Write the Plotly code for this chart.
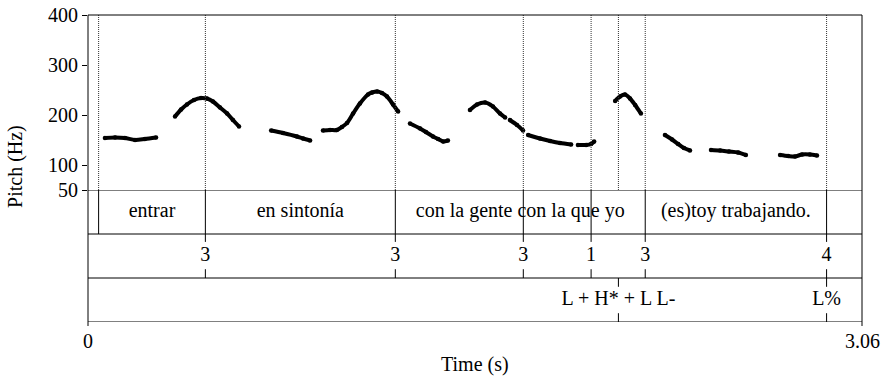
import plotly.graph_objects as go

# ---- Pitch contour (time in s, F0 in Hz), one list per voiced stretch ----
seg_times = [
    [0.067, 0.107, 0.146, 0.186, 0.225, 0.269],
    [0.344, 0.368, 0.391, 0.419, 0.447, 0.470, 0.494, 0.522, 0.550, 0.573, 0.597],
    [0.724, 0.771, 0.826, 0.850, 0.878],
    [0.929, 0.957, 0.984, 1.004, 1.024, 1.048, 1.075, 1.107, 1.123, 1.143, 1.162, 1.182, 1.206, 1.226],
    [1.273, 1.313, 1.336, 1.364, 1.384, 1.404, 1.423],
    [1.510, 1.538, 1.570, 1.601, 1.629, 1.649],
    [1.668, 1.696, 1.720],
    [1.740, 1.787, 1.827, 1.866, 1.910],
    [1.937, 1.969, 1.989, 2.001],
    [2.084, 2.103, 2.123, 2.143, 2.163, 2.186],
    [2.281, 2.309, 2.333, 2.356, 2.380],
    [2.463, 2.499, 2.534, 2.570, 2.601],
    [2.736, 2.768, 2.795, 2.823, 2.854, 2.882],
]
seg_hz = [
    [154, 155, 154, 150, 152, 155],
    [197, 211, 221, 230, 234, 233, 227, 215, 203, 190, 177],
    [169, 164, 157, 153, 149],
    [169, 170, 170, 176, 184, 203, 223, 241, 245, 247, 244, 237, 221, 207],
    [183, 173, 166, 157, 152, 147, 149],
    [210, 221, 225, 217, 203, 195],
    [190, 180, 169],
    [160, 153, 148, 144, 141],
    [140, 140, 142, 147],
    [228, 237, 241, 233, 220, 203],
    [160, 151, 142, 134, 129],
    [130, 129, 127, 125, 120],
    [120, 118, 117, 121, 121, 119],
]

# ---- TextGrid ----
T_END = 3.06
word_bounds = [0.042, 0.464, 1.215, 2.203, 2.920]
word_labels = ["entrar", "en sintonía", "con la gente con la que yo", "(es)toy trabajando."]
extra_word_lines = [1.721, 1.989]
break_times = [0.464, 1.215, 1.721, 1.989, 2.203, 2.920]
break_labels = ["3", "3", "3", "1", "3", "4"]
tone_times = [2.097, 2.920]
tone_labels = ["L + H* + L L-", "L%"]
pitch_ticks = [50, 100, 200, 300, 400]

FONT = "Liberation Serif"
FS = 20
INK = "black"

# join voiced stretches with gaps
xs, ys = [], []
for t, f in zip(seg_times, seg_hz):
    xs += t + [None]
    ys += f + [None]

fig = go.Figure()
fig.add_trace(go.Scatter(
    x=xs, y=ys, mode="lines+markers", connectgaps=False,
    line=dict(color=INK, width=4, shape="spline", smoothing=0.8),
    marker=dict(color=INK, size=4.5),
    xaxis="x", yaxis="y", hoverinfo="skip", showlegend=False,
))

# tier labels (tier 1 at 2..3, tier 2 at 1..2, tier 3 at 0..1 on y2)
word_mid = [(a + b) / 2 for a, b in zip(word_bounds[:-1], word_bounds[1:])]
fig.add_trace(go.Scatter(
    x=word_mid + break_times + tone_times,
    y=[2.5] * len(word_mid) + [1.5] * len(break_times) + [0.5] * len(tone_times),
    text=word_labels + break_labels + tone_labels,
    mode="text", textposition="middle center",
    textfont=dict(family=FONT, size=FS, color=INK),
    xaxis="x", yaxis="y2", hoverinfo="skip", showlegend=False,
))

shapes = []
def line(x0, y0, x1, y1, xref="x", yref="y", dash=None, color=INK):
    d = dict(type="line", x0=x0, y0=y0, x1=x1, y1=y1, xref=xref, yref=yref,
             line=dict(color=color, width=1))
    if dash:
        d["line"]["dash"] = dash
    shapes.append(d)

# dotted boundary lines over the pitch panel
for t in sorted(set(word_bounds + extra_word_lines + break_times + tone_times)):
    line(t, 50, t, 400, dash="1px,1px", color="#333")

# frame
line(0, 1, 1, 1, xref="paper", yref="paper")
line(0, -0.013, 0, 1, xref="paper", yref="paper")
line(1, -0.013, 1, 1, xref="paper", yref="paper")
for yy in [3, 2, 1, 0]:
    line(0, yy, T_END, yy, yref="y2")

# tier 1 boundaries
for t in word_bounds + extra_word_lines:
    line(t, 2, t, 3, yref="y2")
# tier 2 point ticks
for t in break_times:
    line(t, 2, t, 1.82, yref="y2")
    line(t, 1.2, t, 1, yref="y2")
# tier 3 point ticks
for t in tone_times:
    line(t, 1, t, 0.8, yref="y2")
    line(t, 0.2, t, 0, yref="y2")

split = 132 / 307

annotations = [
    dict(text="0", x=0, y=-0.062, xref="x", yref="paper", showarrow=False,
         xanchor="center", yanchor="middle", font=dict(family=FONT, size=FS, color=INK)),
    dict(text="3.06", x=T_END, y=-0.062, xref="x", yref="paper", showarrow=False,
         xanchor="center", yanchor="middle", font=dict(family=FONT, size=FS, color=INK)),
    dict(text="Time (s)", x=0.5, y=-0.14, xref="paper", yref="paper", showarrow=False,
         xanchor="center", yanchor="middle", font=dict(family=FONT, size=FS, color=INK)),
    dict(text="Pitch (Hz)", x=-0.093, y=0.505, xref="paper", yref="paper", showarrow=False,
         textangle=-90, xanchor="center", yanchor="middle",
         font=dict(family=FONT, size=FS, color=INK)),
]

fig.update_layout(
    template="none",
    width=885, height=378,
    margin=dict(l=88, r=23, t=15, b=56, pad=0, autoexpand=False),
    paper_bgcolor="white", plot_bgcolor="white",
    xaxis=dict(range=[0, T_END], domain=[0, 1], visible=False, fixedrange=True,
               automargin=False),
    yaxis=dict(range=[50, 400], domain=[split, 1], anchor="x", automargin=False,
               tickvals=pitch_ticks, ticks="outside", ticklen=5, tickwidth=1,
               tickcolor=INK, showline=False, showgrid=False, zeroline=False,
               tickfont=dict(family=FONT, size=FS, color=INK), fixedrange=True),
    yaxis2=dict(range=[0, 3], domain=[0, split], anchor="x", visible=False,
                automargin=False, fixedrange=True),
    shapes=shapes,
    annotations=annotations,
    showlegend=False,
)

fig.write_html("out.html")
